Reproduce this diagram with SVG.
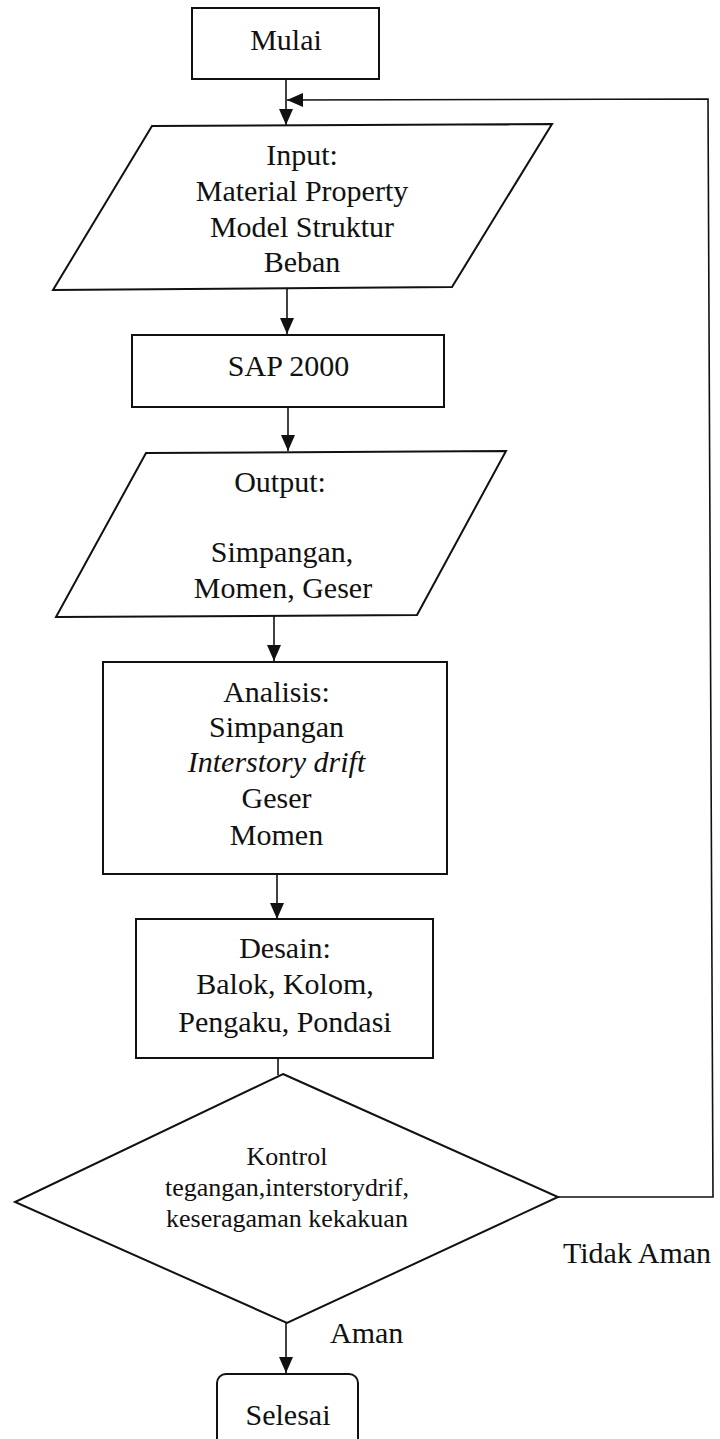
<svg xmlns="http://www.w3.org/2000/svg" width="720" height="1439" viewBox="0 0 720 1439">
  <style>
    .shape { fill: #ffffff; stroke: #111111; stroke-width: 2; stroke-linejoin: miter; }
    .conn { fill: none; stroke: #111111; stroke-width: 1.6; }
    .t { font-family: "Liberation Serif", "Times New Roman", serif; font-size: 30px; fill: #111111; text-anchor: middle; }
    .ts { font-family: "Liberation Serif", "Times New Roman", serif; font-size: 26px; fill: #111111; text-anchor: middle; }
    .lbl { font-family: "Liberation Serif", "Times New Roman", serif; font-size: 30px; fill: #111111; }
  </style>
  <defs>
    <marker id="arrow" markerUnits="userSpaceOnUse" markerWidth="16" markerHeight="14" refX="16" refY="7" orient="auto">
      <path d="M0,0 L16,7 L0,14 z" fill="#111111"/>
    </marker>
  </defs>
  <rect width="720" height="1439" fill="#ffffff"/>

  <g id="connectors">
    <path class="conn" d="M286,79 V125" marker-end="url(#arrow)"/>
    <polyline class="conn" points="558,1197 713,1197 708,99 287,100" marker-end="url(#arrow)"/>
    <path class="conn" d="M287,288 V334" marker-end="url(#arrow)"/>
    <path class="conn" d="M288,407 V451" marker-end="url(#arrow)"/>
    <path class="conn" d="M274,616 V661" marker-end="url(#arrow)"/>
    <path class="conn" d="M277,874 V919" marker-end="url(#arrow)"/>
    <path class="conn" d="M278,1058 V1075"/>
    <path class="conn" d="M286,1323 V1373" marker-end="url(#arrow)"/>
  </g>

  <g id="mulai">
    <rect class="shape" x="192" y="8" width="187" height="71"/>
    <text class="t" x="286" y="50">Mulai</text>
  </g>

  <g id="input">
    <polygon class="shape" points="152,126 552,124 452,287 53,290"/>
    <text class="t" x="302" y="165">Input:</text>
    <text class="t" x="302" y="200.5">Material Property</text>
    <text class="t" x="302" y="236.5">Model Struktur</text>
    <text class="t" x="302" y="271.5">Beban</text>
  </g>

  <g id="sap">
    <rect class="shape" x="132" y="335" width="312" height="72"/>
    <text class="t" x="288.5" y="376">SAP 2000</text>
  </g>

  <g id="output">
    <polygon class="shape" points="146,453 506,451 417,615 56,617"/>
    <text class="t" x="280" y="492">Output:</text>
    <text class="t" x="282" y="561.5">Simpangan,</text>
    <text class="t" x="283" y="598">Momen, Geser</text>
  </g>

  <g id="analisis">
    <rect class="shape" x="103" y="662" width="344" height="212"/>
    <text class="t" x="276.5" y="702">Analisis:</text>
    <text class="t" x="276.5" y="737">Simpangan</text>
    <text class="t" x="276.5" y="772" font-style="italic">Interstory drift</text>
    <text class="t" x="276.5" y="808">Geser</text>
    <text class="t" x="276.5" y="845">Momen</text>
  </g>

  <g id="desain">
    <rect class="shape" x="136" y="919" width="297" height="139"/>
    <text class="t" x="285" y="958">Desain:</text>
    <text class="t" x="285" y="994">Balok, Kolom,</text>
    <text class="t" x="285" y="1031.5">Pengaku, Pondasi</text>
  </g>

  <g id="kontrol">
    <polygon class="shape" points="283,1074 558,1197 287,1323 15,1202"/>
    <text class="ts" x="287" y="1165">Kontrol</text>
    <text class="ts" x="287" y="1195.5">tegangan,interstorydrif,</text>
    <text class="ts" x="287" y="1226.5">keseragaman kekakuan</text>
  </g>

  <g id="selesai">
    <rect class="shape" x="217" y="1374" width="141" height="90" rx="9" ry="9"/>
    <text class="t" x="288" y="1425">Selesai</text>
  </g>

  <g id="labels">
    <text class="lbl" x="563" y="1263">Tidak Aman</text>
    <text class="lbl" x="330" y="1343">Aman</text>
  </g>
</svg>
